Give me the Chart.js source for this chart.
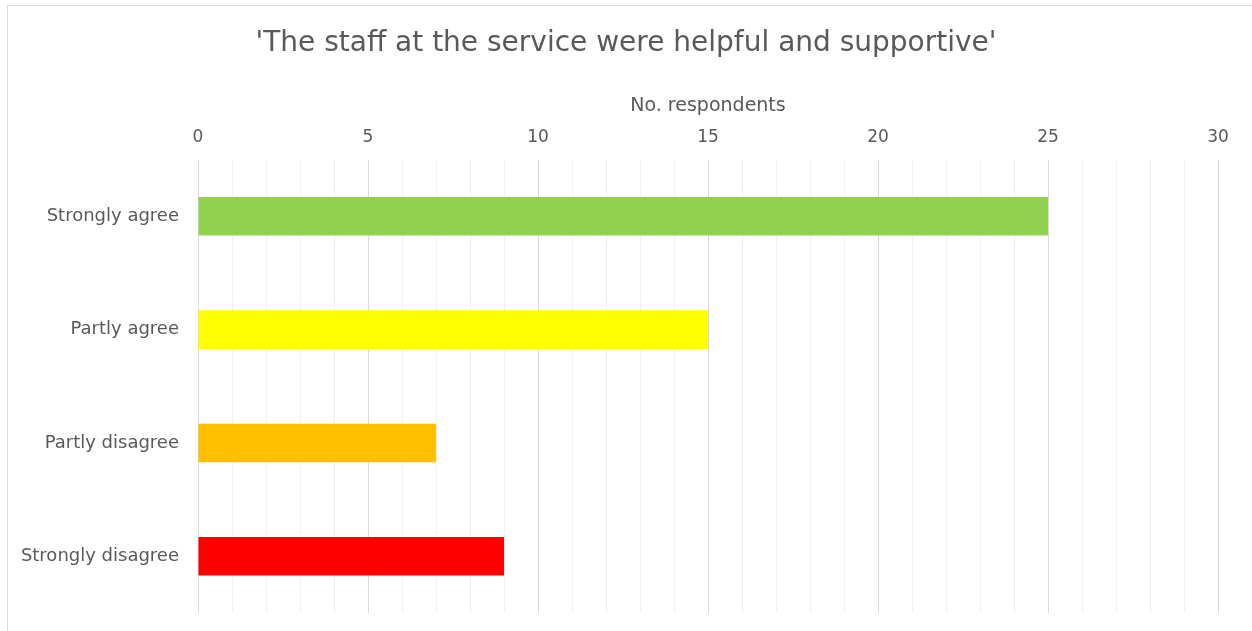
<!DOCTYPE html>
<html>
<head>
<meta charset="utf-8">
<script src="https://cdn.jsdelivr.net/npm/chart.js@4"></script>
<style>
  html, body { margin: 0; padding: 0; background: #fff; overflow: hidden; }
  #frame { position: absolute; left: 7px; top: 5px; width: 1260px; height: 640px; border: 1px solid #d9d9d9; box-sizing: border-box; }
  #chart { position: absolute; left: 0; top: 0; }
</style>
</head>
<body>
<div id="frame"></div>
<canvas id="chart" width="1252" height="631"></canvas>
<script>
const categories = ["Strongly agree", "Partly agree", "Partly disagree", "Strongly disagree"];
const respondents = [25, 15, 7, 9];
const barColors = ["#92d050", "#ffff00", "#ffc000", "#ff0000"];
const axisMax = 30;
const labelStep = 5;

const FONT = "DejaVu Sans";
const TEXT = "#595959";

new Chart(document.getElementById("chart"), {
  type: "bar",
  data: {
    labels: categories,
    datasets: [{
      data: respondents,
      backgroundColor: barColors,
      borderWidth: 0,
      categoryPercentage: 1,
      barPercentage: 0.34
    }]
  },
  options: {
    indexAxis: "y",
    responsive: false,
    animation: false,
    layout: { padding: { left: 0, right: 0, top: 0, bottom: 18 } },
    plugins: {
      legend: { display: false },
      tooltip: { enabled: false },
      title: {
        display: true,
        text: "'The staff at the service were helpful and supportive'",
        color: TEXT,
        font: { family: FONT, size: 28, weight: "normal" },
        padding: { top: 27, bottom: 18 }
      }
    },
    scales: {
      x: {
        position: "top",
        min: 0,
        max: axisMax,
        border: { display: false },
        grid: {
          drawTicks: false,
          color: ctx => (ctx.tick && ctx.tick.value % labelStep === 0) ? "#d9d9d9" : "#f0f0f0",
          lineWidth: 1
        },
        ticks: {
          stepSize: 1,
          autoSkip: false,
          maxRotation: 0,
          padding: 12,
          color: TEXT,
          font: { family: FONT, size: 17 },
          callback: v => (v % labelStep === 0 ? v : "")
        },
        title: {
          display: true,
          text: "No. respondents",
          color: TEXT,
          font: { family: FONT, size: 19 },
          padding: { top: 16, bottom: 0 }
        },
        afterFit: scale => { scale.height = 81; }
      },
      y: {
        border: { display: false },
        grid: { display: false, drawTicks: false },
        ticks: {
          padding: 19,
          color: TEXT,
          font: { family: FONT, size: 18 }
        },
        afterFit: scale => {
          scale.width = 198;
          // labels sit mid-band, so no overhang room is needed above or below
          scale.paddingTop = 0;
          scale.paddingBottom = 0;
        }
      },
      // empty right-hand margin so the plot ends at 30 while the title stays centred on the full width
      spacer: {
        type: "linear",
        position: "right",
        display: true,
        border: { display: false },
        grid: { display: false, drawTicks: false },
        ticks: { display: false },
        afterFit: scale => { scale.width = 34; }
      }
    }
  }
});
</script>
</body>
</html>
